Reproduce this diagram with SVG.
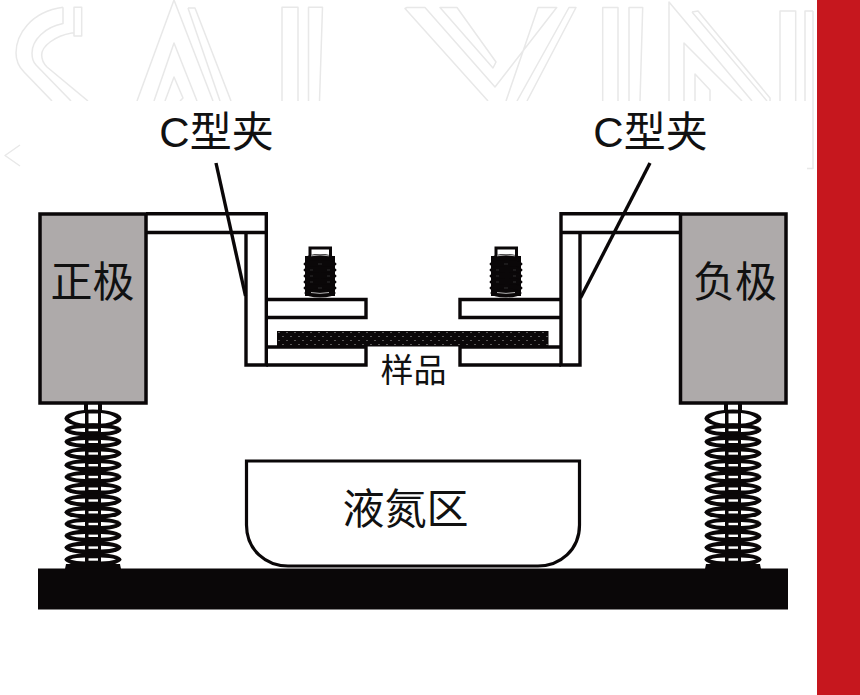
<svg xmlns="http://www.w3.org/2000/svg" xmlns:xlink="http://www.w3.org/1999/xlink" width="860" height="695" viewBox="0 0 860 695">
<style>
text{font-family:"Liberation Sans","Noto Sans CJK SC",sans-serif;fill:#111;text-anchor:middle}
.lg{font-size:42px}
.sm{font-size:33px}
.wm{fill:none;stroke:#e8e8e8;stroke-width:1.5;stroke-linejoin:round}
.o{fill:#fff;stroke:#0a0708;stroke-width:3.2}
.l{fill:none;stroke:#0a0708;stroke-width:3.4}
.gray{fill:#aeaaaa;stroke:#0a0708;stroke-width:3.5}
</style>
<defs>
<clipPath id="wc"><rect x="0" y="0" width="817" height="101"/></clipPath>
<pattern id="dots" x="277" y="331" width="8" height="8" patternUnits="userSpaceOnUse">
<rect width="8" height="8" fill="#0a0708"/>
<circle cx="2" cy="1.5" r="0.55" fill="#fff" opacity=".75"/>
<circle cx="6" cy="5.5" r="0.55" fill="#fff" opacity=".75"/>
</pattern>
<g id="row">
<ellipse cx="0" cy="0" rx="28.500" ry="6.800" fill="#0a0708"/>
<path d="M-23 0Q-17 -1.900 -8 -1.900V1.900Q-17 1.900 -23 0ZM23 0Q17 -1.900 8 -1.900V1.900Q17 1.900 23 0Z" fill="#fff"/>
<rect x="-4.500" y="-1.200" width="9.500" height="2.400" fill="#fff"/>
</g>
<g id="spring">
<path d="M-9 404H9V412H-9Z" fill="#0a0708"/>
<rect x="-5" y="404" width="10" height="8" fill="#fff"/>
<ellipse cx="0" cy="418.500" rx="28.500" ry="9" fill="#0a0708"/>
<path d="M-24 418.500Q-18 413.800 -8 413V424Q-18 423.200 -24 418.500ZM24 418.500Q18 413.800 8 413V424Q18 423.200 24 418.500Z" fill="#fff"/>
<rect x="-4.500" y="413.500" width="9.500" height="10" fill="#fff"/>
<use xlink:href="#row" href="#row" y="430"/>
<use xlink:href="#row" href="#row" y="441.800"/>
<use xlink:href="#row" href="#row" y="453.500"/>
<use xlink:href="#row" href="#row" y="465.200"/>
<use xlink:href="#row" href="#row" y="477"/>
<use xlink:href="#row" href="#row" y="488.700"/>
<use xlink:href="#row" href="#row" y="500.500"/>
<use xlink:href="#row" href="#row" y="512.300"/>
<use xlink:href="#row" href="#row" y="524"/>
<use xlink:href="#row" href="#row" y="535.800"/>
<use xlink:href="#row" href="#row" y="547.600"/>
<use xlink:href="#row" href="#row" y="559.500"/>
<path d="M-27 564L-28 569H28L27 564Z" fill="#0a0708"/>
</g>
<g id="bolt">
<rect x="-10" y="248" width="20.500" height="10" fill="#fff" stroke="#0a0708" stroke-width="3"/>
<rect x="-15" y="256" width="30" height="40" fill="#0a0708"/>
<g fill="#0a0708">
<ellipse cx="0" cy="258.500" rx="15" ry="4.500"/>
<ellipse cx="0" cy="264" rx="16.500" ry="4"/>
<ellipse cx="0" cy="270" rx="16.500" ry="4"/>
<ellipse cx="0" cy="276" rx="16.500" ry="4"/>
<ellipse cx="0" cy="282" rx="16.500" ry="4"/>
<ellipse cx="0" cy="288" rx="16.500" ry="4"/>
<ellipse cx="0" cy="293" rx="15.500" ry="4.500"/>
</g>
<path d="M-9 255.800Q0 254 9 255.800M-9 292.500Q0 294.300 9 292.500" stroke="#ddd" stroke-width=".8" fill="none"/>
<path d="M-10 270H-7M7 270H10M-10 276H-7M7 276H10M-10 282H-7M7 282H10M-2 264H2M-2 288H2" stroke="#555" stroke-width=".5" fill="none"/>
</g>
</defs>
<rect width="860" height="695" fill="#fff"/>
<g id="watermark">
<g clip-path="url(#wc)">
<path class="wm" d="M63 7.300C30 12 16 35 16 53C16 62 20 68 24 72L52 101M63 7.300V23.500C45 27 32 40 32 53C32 58 33 62 36 65L71 101M71.700 33C55 36 41.700 46 41.700 55C41.700 60 44 64 47 67L88 101M71.700 33H74V36H81.700V7.300H74V33"/>
<path class="wm" d="M137 101L174 0L213 101M188 8H195L231 101M188 8L220 101M154 101L174 43L197 101M165 101L174 77L183 98L180 101"/>
<path class="wm" d="M282 101V7.300H298V101M308.500 101V7.300H322.500L319.500 101"/>
<path class="wm" d="M488 101L405 8.500L407 7.500H425L495 87L556.700 7.500H538L506 101M440 7.500H457L496 62L493 68ZM517 101L569 7.500H576L527 101"/>
<path class="wm" d="M602.700 101V7.500H618V101M629 101V7.500H642.700L640 101"/>
<path class="wm" d="M669 101V2L752 101M684 101V43L742 101M692 12L698 11L770 98V101M692 12L767 101M695 101V74L710 90V101"/>
<path class="wm" d="M780 101V11H795.700V101M805 101V11H813"/>
</g>
<path class="wm" d="M813 11V168.500H807"/>
<path class="wm" d="M20 145L5 155.500L20 166"/>
</g>
<rect id="red-bar" x="817" y="0" width="43" height="695" fill="#c6171e"/>
<g id="spring-left"><use xlink:href="#spring" href="#spring" x="93"/></g>
<g id="spring-right"><use xlink:href="#spring" href="#spring" x="733"/></g>
<g id="base"><rect x="38" y="568.500" width="750" height="41" fill="#0a0708"/></g>
<g id="liquid-nitrogen">
<path class="o" d="M246.500 461H579.500V525C579.500 550 560 566 538 566H288C266 566 246.500 550 246.500 525Z"/>
<text class="lg" x="405.500" y="524">液氮区</text>
</g>
<g id="clamp-left">
<path class="l" d="M146 213.800H266.300V365H246V232.500M146 232.500H266.300"/>
<path class="l" d="M266.300 299.500H366V317.500H266.300M266.300 347H366V365H266.300"/>
</g>
<g id="clamp-right">
<path class="l" d="M680 213.800H561V365H580V232.500M680 232.500H561"/>
<path class="l" d="M561 299.500H460V317.500H561M561 347H460V365H561"/>
</g>
<g id="sample">
<rect x="277" y="331" width="271.500" height="15.500" fill="url(#dots)"/>
<text class="sm" x="413.500" y="382">样品</text>
</g>
<g id="bolt-left"><use xlink:href="#bolt" href="#bolt" x="320"/></g>
<g id="bolt-right"><use xlink:href="#bolt" href="#bolt" x="506"/></g>
<g id="electrode-positive">
<rect class="gray" x="40" y="214" width="106" height="189"/>
<text class="lg" x="92.500" y="297">正极</text>
</g>
<g id="electrode-negative">
<rect class="gray" x="680.500" y="214" width="105.500" height="189"/>
<text class="lg" x="735" y="297">负极</text>
</g>
<g id="label-left"><text class="lg" x="216.500" y="147">C型夹</text></g>
<g id="label-right"><text class="lg" x="650.500" y="147">C型夹</text></g>
<g id="connectors">
<path class="l" d="M216 163L245.500 296"/>
<path class="l" d="M650 163L580.500 298"/>
</g>
</svg>
